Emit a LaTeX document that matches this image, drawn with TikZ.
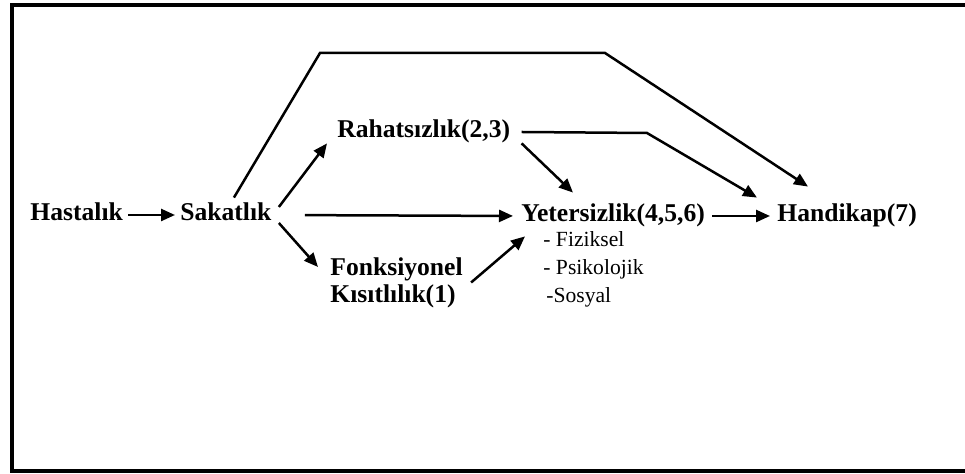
\documentclass[tikz,border=0pt]{standalone}
\usepackage{fontspec}
\setmainfont{Liberation Serif}
\usetikzlibrary{arrows.meta}
\begin{document}
\begin{tikzpicture}[x=0.5pt,y=-0.5pt,
  kutu/.style={inner sep=0pt, font=\fontsize{12.8}{13.5}\selectfont\bfseries, text height=8.5pt, text depth=2.5pt},
  ok/.style={line width=1.25pt, -{Triangle[length=7pt,width=6pt]}}]
\useasboundingbox (0,0) rectangle (965,474);

% çerçeve
\draw [line width=1.6pt] (965,5) -- (12,5) -- (12,471) -- (965,471);

% kavramlar
\node [kutu, anchor=base west] (hast) at (30,221) {Hastalık};
\node [kutu, anchor=base west] (sak) at (180,221) {Sakatlık};
\node [kutu, anchor=base west] (rah) at (337,138) {Rahatsızlık(2,3)};
\node [kutu, anchor=base west] (yet) at (521,222) {Yetersizlik(4,5,6)};
\node [kutu, anchor=base west] (hand) at (777,222) {Handikap(7)};
\node [inner sep=0pt, anchor=north west, align=left, font=\fontsize{12.8}{13.5}\selectfont\bfseries] (fonk) at (330,257) {Fonksiyonel\\Kısıtlılık(1)};
\node [inner sep=0pt, anchor=north west, align=left, font=\fontsize{10.8}{14}\selectfont] (alt) at (543,231) {- Fiziksel\\- Psikolojik\\\hspace{1.5pt}-Sosyal};

% kırılma noktaları
\coordinate (k1) at (320,53);
\coordinate (k2) at (605,53);
\coordinate (k3) at (647,133);

% oklar
\draw [ok, shorten <=2.5pt, shorten >=2.5pt] (hast.east) -- (sak.west);
\draw [ok] ([xshift=3.5pt,yshift=4pt]sak.east) -- ([xshift=-5pt]rah.south west);
\draw [ok] ([xshift=3.5pt,yshift=-4pt]sak.east) -- ([xshift=-6pt,yshift=-5pt]fonk.north west);
\draw [ok, shorten <=16.5pt, shorten >=4pt] (sak.east) -- (yet.west);
\draw [ok] ([xshift=4pt]fonk.east) -- ([xshift=2pt,yshift=-4.5pt]yet.south west);
\draw [ok] ([xshift=5.5pt]rah.south east) -- ([xshift=26pt,yshift=6pt]yet.north west);
\draw [ok] ([xshift=5.5pt]rah.east) -- (k3) -- ([xshift=-10pt,yshift=3.5pt]hand.north west);
\draw [ok] ([xshift=4pt,yshift=3pt]sak.north) -- (k1) -- (k2) -- ([xshift=15.5pt,yshift=9pt]hand.north west);
\draw [ok, shorten <=3.5pt, shorten >=3.5pt] (yet.east) -- (hand.west);
\end{tikzpicture}
\end{document}
